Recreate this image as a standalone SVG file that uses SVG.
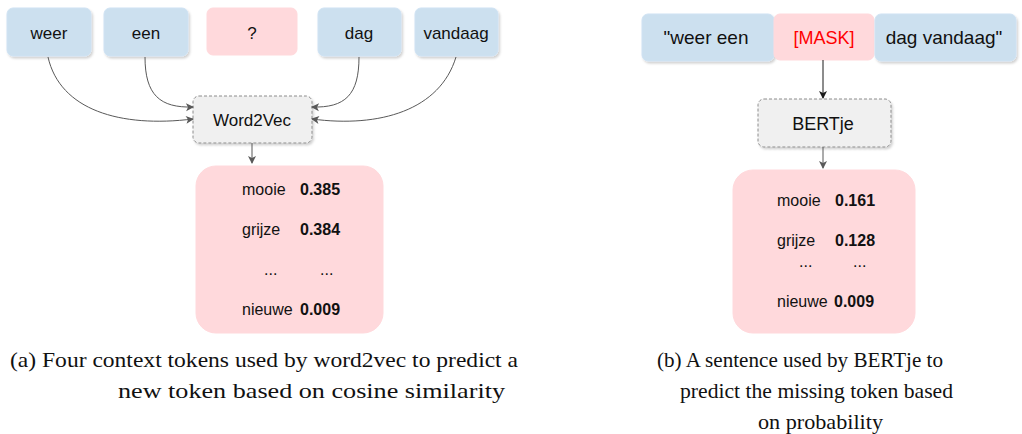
<svg xmlns="http://www.w3.org/2000/svg" width="1022" height="434" viewBox="0 0 1022 434">
<defs>
<marker id="ah" markerWidth="10" markerHeight="10" refX="8" refY="5" orient="auto" markerUnits="userSpaceOnUse"><path d="M1,1 L9,5 L1,9 L3,5 Z" fill="#595959"/></marker>
<marker id="ahd" markerWidth="10" markerHeight="10" refX="8" refY="5" orient="auto" markerUnits="userSpaceOnUse"><path d="M1,1 L9,5 L1,9 L3,5 Z" fill="#1a1a1a"/></marker>
<filter id="sh" x="-10%" y="-10%" width="130%" height="140%"><feDropShadow dx="1.5" dy="2" stdDeviation="1" flood-color="#000" flood-opacity="0.18"/></filter>
</defs>
<style>
.blue{fill:#cce0ef;stroke:#cfe2f3;stroke-width:1;filter:url(#sh)}
.pink{fill:#ffd9dc;stroke:#ffd9dc}
.model{fill:#f0f0f0;stroke:#8c8c8c;stroke-dasharray:3 2;stroke-width:1;filter:url(#sh)}
.t{font-family:"Liberation Sans",Arial,sans-serif;font-size:17px;fill:#111;text-anchor:middle}
.r{font-size:19px}
.s{font-family:"Liberation Sans",Arial,sans-serif;font-size:16px;fill:#111}
.b{font-weight:bold}
.cap{font-family:"Liberation Serif","Times New Roman",serif;font-size:21px;fill:#111}
.c{fill:none;stroke:#595959;stroke-width:1}
</style>
<rect width="1022" height="434" fill="#fff"/>
<g id="tok-weer"><rect class="blue" x="7" y="8" width="84" height="48" rx="6"/><text class="t" x="49" y="39">weer</text></g>
<g id="tok-een"><rect class="blue" x="104" y="8" width="84" height="48" rx="6"/><text class="t" x="146" y="39">een</text></g>
<g id="tok-q"><rect class="pink" x="207" y="8" width="90" height="47" rx="6"/><text class="t" x="252" y="39">?</text></g>
<g id="tok-dag"><rect class="blue" x="318" y="8" width="83" height="48" rx="6"/><text class="t" x="359" y="39">dag</text></g>
<g id="tok-vandaag"><rect class="blue" x="415" y="8" width="83" height="48" rx="6"/><text class="t" x="456" y="39">vandaag</text></g>
<g id="word2vec"><rect class="model" x="193" y="96" width="119" height="47" rx="6"/><text class="t" x="252" y="126">Word2Vec</text></g>
<g id="result-a"><rect class="pink" x="196" y="166" width="187" height="167" rx="20"/>
<text class="s" x="242" y="195">mooie</text><text class="s b" x="300" y="195">0.385</text>
<text class="s" x="242" y="235">grijze</text><text class="s b" x="300" y="235">0.384</text>
<text class="s" x="264" y="275">...</text><text class="s" x="320" y="275">...</text>
<text class="s" x="242" y="315">nieuwe</text><text class="s b" x="300" y="315">0.009</text></g>
<g id="sent-left"><rect class="blue" x="642" y="14" width="132" height="47" rx="6"/><text class="t r" x="706" y="44">"weer een</text></g>
<g id="sent-mask"><rect class="pink" x="774" y="14" width="100" height="46" rx="6"/><text class="t r" x="824" y="44" style="fill:#ff0000;font-size:18px">[MASK]</text></g>
<g id="sent-right"><rect class="blue" x="875" y="14" width="141" height="47" rx="6"/><text class="t r" x="944" y="44">dag vandaag"</text></g>
<g id="bertje"><rect class="model" x="758" y="99" width="133" height="48" rx="6"/><text class="t" x="823" y="130" style="font-size:18px">BERTje</text></g>
<g id="result-b"><rect class="pink" x="733" y="170" width="182" height="163" rx="20"/>
<text class="s" x="777" y="206">mooie</text><text class="s b" x="835" y="206">0.161</text>
<text class="s" x="777" y="246">grijze</text><text class="s b" x="835" y="246">0.128</text>
<text class="s" x="799" y="267">...</text><text class="s" x="853" y="267">...</text>
<text class="s" x="777" y="307">nieuwe</text><text class="s b" x="834" y="307">0.009</text></g>
<g id="connectors">
<path class="c" d="M48,57 C60,110 120,128 193,119" marker-end="url(#ah)"/>
<path class="c" d="M145,57 C145,95 160,108 193,107" marker-end="url(#ah)"/>
<path class="c" d="M359,57 C359,95 345,108 312,107" marker-end="url(#ah)"/>
<path class="c" d="M456,57 C440,110 380,128 312,119" marker-end="url(#ah)"/>
<path class="c" d="M252,143 L252,163" marker-end="url(#ah)"/>
<path class="c" d="M823,60 L823,98" style="stroke:#1a1a1a" marker-end="url(#ahd)"/>
<path class="c" d="M823,147 L823,168" marker-end="url(#ah)"/>
</g>
<g id="captions">
<text class="cap" x="10" y="367" textLength="508" lengthAdjust="spacingAndGlyphs">(a) Four context tokens used by word2vec to predict a</text>
<text class="cap" x="118" y="398" textLength="387" lengthAdjust="spacingAndGlyphs">new token based on cosine similarity</text>
<text class="cap" x="657" y="367" textLength="286" lengthAdjust="spacingAndGlyphs">(b) A sentence used by BERTje to</text>
<text class="cap" x="680" y="398" textLength="273" lengthAdjust="spacingAndGlyphs">predict the missing token based</text>
<text class="cap" x="758" y="429" textLength="125" lengthAdjust="spacingAndGlyphs">on probability</text>
</g>
</svg>
